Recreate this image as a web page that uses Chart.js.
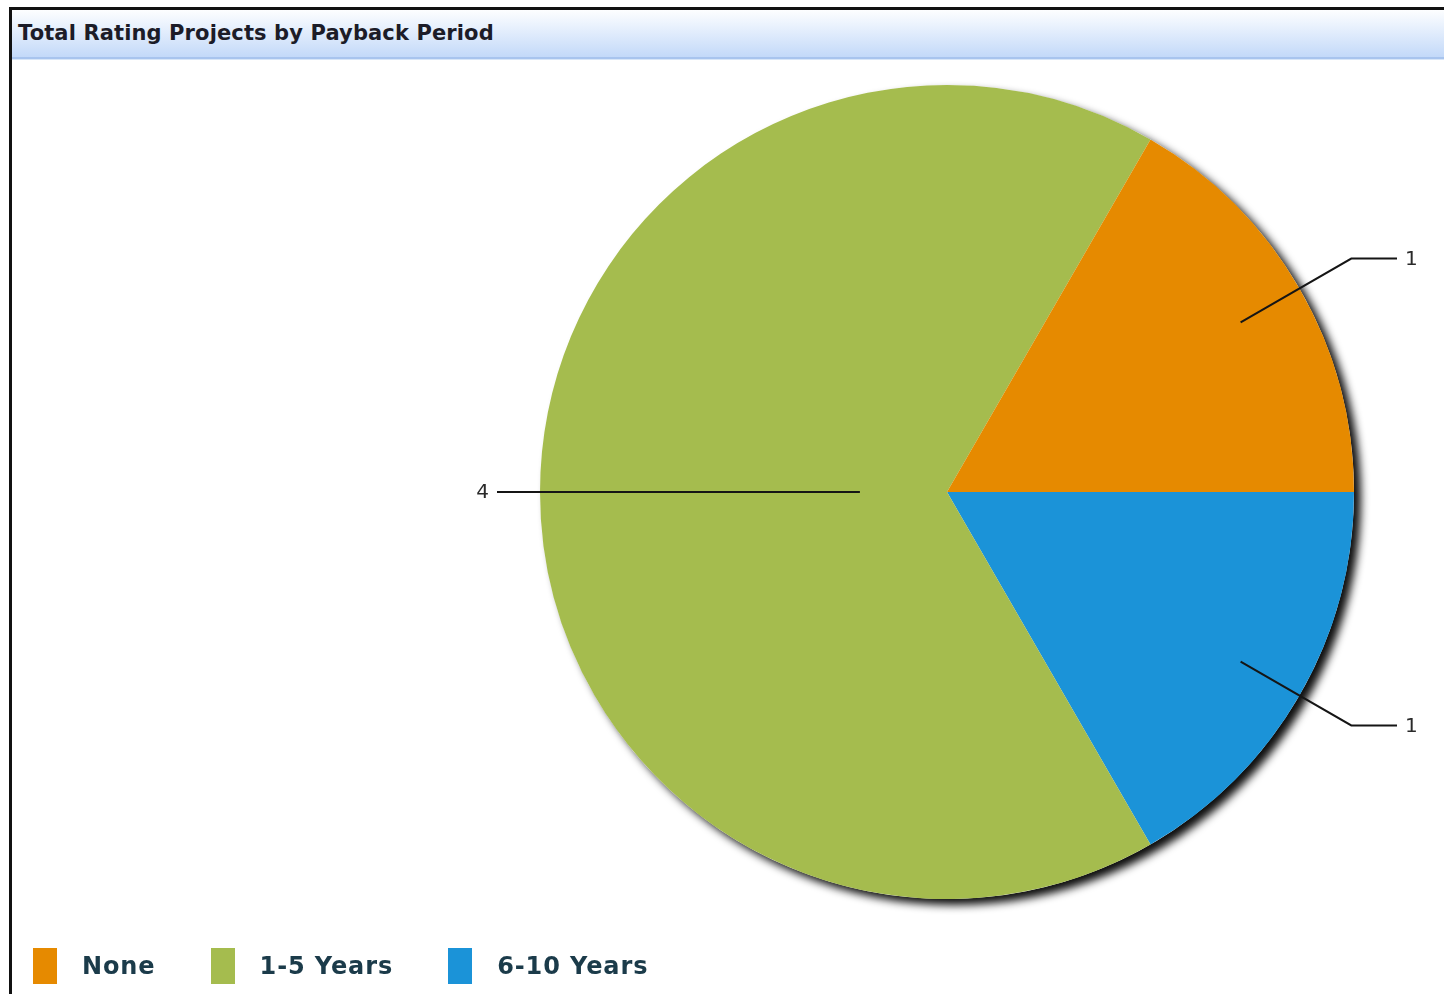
<!DOCTYPE html>
<html>
<head>
<meta charset="utf-8">
<title>Total Rating Projects by Payback Period</title>
<script src="https://cdn.jsdelivr.net/npm/chart.js@4.4.1/dist/chart.umd.min.js"></script>
<style>
  html, body { margin: 0; padding: 0; background: #fff; }
  body { width: 1444px; height: 994px; position: relative; overflow: hidden; }
  #frame { position: absolute; left: 9px; top: 7px; width: 1460px; height: 1010px;
           border-left: 3px solid #111; border-top: 3px solid #111; box-sizing: border-box; }
  #header { position: absolute; left: 12px; top: 10px; width: 1440px; height: 47px;
            background: linear-gradient(#fdfeff, #c3d9f9);
            border-bottom: 2px solid #a8c4ee; box-shadow: 0 1px 0 #d8e6f8; }
  #title { position: absolute; left: 18px; top: 21px; margin: 0; line-height: 24px;
           font: bold 21px "DejaVu Sans", Verdana, sans-serif; letter-spacing: 0.12px;
           color: #1c1c28; white-space: nowrap; }
  #chart { position: absolute; left: 0; top: 0; }
  #legend { position: absolute; left: 33px; top: 948px; display: flex; }
  .item { display: flex; align-items: center; margin-right: 55px; }
  .swatch { width: 24px; height: 36px; margin-right: 25px; }
  .txt { font: bold 24px "DejaVu Sans", Verdana, sans-serif; color: #1b3b4a; letter-spacing: 0.9px; white-space: nowrap; }
</style>
</head>
<body>
<div id="frame"></div>
<div id="header"></div>
<h1 id="title">Total Rating Projects by Payback Period</h1>
<canvas id="chart" width="1444" height="994"></canvas>
<div id="legend"></div>
<script>
// Payback period buckets and how many rated projects fall in each
const categories = ['None', '1-5 Years', '6-10 Years'];
const projectCounts = [1, 4, 1];
const sliceColors = ['#E68A00', '#A5BC4E', '#1B93D8'];

// Slices run counter-clockwise from 3 o'clock; Chart.js sweeps clockwise,
// so the dataset is fed in reverse order.
const order = categories.map((_, i) => i).reverse();

// Soft drop shadow under the whole pie
const pieShadow = {
  id: 'pieShadow',
  beforeDatasetsDraw(chart, args, opts) {
    const arc = chart.getDatasetMeta(0).data[0];
    if (!arc) return;
    const p = arc.getProps(['x', 'y', 'outerRadius'], true);
    const ctx = chart.ctx;
    ctx.save();
    ctx.shadowColor = opts.color;
    ctx.shadowBlur = opts.blur;
    ctx.shadowOffsetX = opts.offsetX;
    ctx.shadowOffsetY = opts.offsetY;
    ctx.fillStyle = '#ffffff';
    ctx.beginPath();
    ctx.arc(p.x, p.y, p.outerRadius, 0, Math.PI * 2);
    ctx.fill();
    ctx.restore();
  }
};

// Leader lines with value labels outside the pie
const leaderLabels = {
  id: 'leaderLabels',
  afterDatasetsDraw(chart, args, opts) {
    const meta = chart.getDatasetMeta(0);
    const values = chart.data.datasets[0].data;
    const ctx = chart.ctx;
    ctx.save();
    ctx.strokeStyle = opts.lineColor;
    ctx.lineWidth = opts.lineWidth;
    ctx.fillStyle = opts.textColor;
    ctx.font = opts.font;
    ctx.textBaseline = 'middle';
    meta.data.forEach((arc, i) => {
      const p = arc.getProps(['x', 'y', 'startAngle', 'endAngle', 'outerRadius'], true);
      const mid = (p.startAngle + p.endAngle) / 2;
      const c = Math.cos(mid), s = Math.sin(mid);
      const side = c >= 0 ? 1 : -1;
      const r = p.outerRadius;
      const inner = opts.innerFraction[i] * r;
      const x0 = p.x + c * inner, y0 = p.y + s * inner;
      let ex = p.x + c * opts.elbowFraction * r;
      const ey = p.y + s * opts.elbowFraction * r;
      const endX = p.x + side * (r + opts.tail);
      if (Math.abs(ex - p.x) > Math.abs(endX - p.x)) ex = endX;
      ctx.beginPath();
      ctx.moveTo(x0, y0);
      ctx.lineTo(ex, ey);
      ctx.lineTo(endX, ey);
      ctx.stroke();
      ctx.textAlign = side > 0 ? 'left' : 'right';
      ctx.fillText(String(values[i]), endX + side * opts.gap, ey + 1);
    });
    ctx.restore();
  }
};

new Chart(document.getElementById('chart'), {
  type: 'pie',
  data: {
    labels: order.map(i => categories[i]),
    datasets: [{
      data: order.map(i => projectCounts[i]),
      backgroundColor: order.map(i => sliceColors[i]),
      borderWidth: 0,
      hoverOffset: 0
    }]
  },
  options: {
    responsive: false,
    animation: false,
    events: [],
    devicePixelRatio: 1,
    rotation: 90,
    layout: { padding: { left: 540, top: 85, right: 90, bottom: 95 } },
    plugins: {
      legend: { display: false },
      tooltip: { enabled: false },
      title: { display: false },
      pieShadow: { color: 'rgba(0,0,0,0.95)', blur: 8, offsetX: 7, offsetY: 6 },
      leaderLabels: {
        innerFraction: [0.833, 0.214, 0.833],
        elbowFraction: 1.147,
        tail: 43,
        gap: 8,
        lineColor: '#151515',
        lineWidth: 2,
        textColor: '#2a2a2a',
        font: '20px "DejaVu Sans", Verdana, sans-serif'
      }
    }
  },
  plugins: [pieShadow, leaderLabels]
});

// Legend in category order
const legend = document.getElementById('legend');
categories.forEach((name, i) => {
  const item = document.createElement('div');
  item.className = 'item';
  const sw = document.createElement('div');
  sw.className = 'swatch';
  sw.style.background = sliceColors[i];
  const tx = document.createElement('span');
  tx.className = 'txt';
  tx.textContent = name;
  item.appendChild(sw);
  item.appendChild(tx);
  legend.appendChild(item);
});
</script>
</body>
</html>
